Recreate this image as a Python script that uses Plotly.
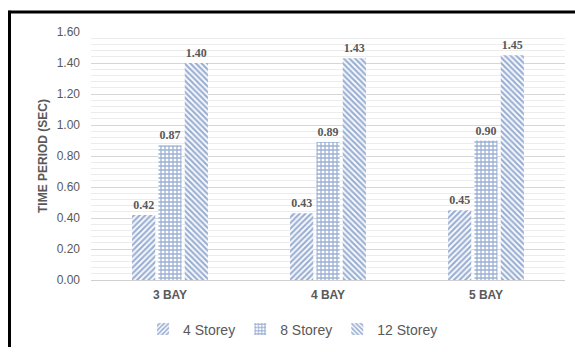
import plotly.graph_objects as go

# Fundamental time period by bay count and building height
categories = ["3 BAY", "4 BAY", "5 BAY"]
series_names = ["4 Storey", "8 Storey", "12 Storey"]
storey_4 = [0.42, 0.43, 0.45]
storey_8 = [0.87, 0.89, 0.90]
storey_12 = [1.40, 1.43, 1.45]
y_ticks = [0.0, 0.2, 0.4, 0.6, 0.8, 1.0, 1.2, 1.4, 1.6]

BLUE = "#3861A8"
GREY = "#595959"

series_values = [storey_4, storey_8, storey_12]
hatches = ["/", "+", "\\"]

fig = go.Figure()
for name, vals, shape in zip(series_names, series_values, hatches):
    fig.add_trace(go.Bar(
        x=categories,
        y=vals,
        name=name,
        text=[f"{v:.2f}" for v in vals],
        textposition="outside",
        textfont=dict(family="Liberation Serif", size=12, color=GREY, weight="bold"),
        cliponaxis=False,
        marker=dict(
            color=BLUE,
            line=dict(width=0),
            pattern=dict(shape=shape, bgcolor="white", fgcolor=BLUE,
                         size=4, solidity=0.55),
        ),
    ))

# plot-area geometry in pixels, used to place the frame in paper units
L, R, T, B = 91, 10, 31.5, 69
W, H = 575, 356
pw, ph = W - L - R, H - T - B

def px_x(p):
    return (p - L) / pw

def px_y(p):
    return (H - B - p) / ph

frame = dict(type="line", xref="paper", yref="paper",
             line=dict(color="black", width=3), layer="above")

fig.update_layout(
    width=W, height=H,
    margin=dict(l=L, r=R, t=T, b=B),
    paper_bgcolor="white",
    plot_bgcolor="white",
    barmode="group",
    bargap=0.5,
    bargroupgap=0.12,
    font=dict(family="Liberation Sans", color=GREY),
    showlegend=True,
    legend=dict(
        orientation="h",
        x=px_x(293), xanchor="center",
        y=px_y(338), yanchor="middle",
        font=dict(size=14, color=GREY),
        itemwidth=30,
        traceorder="normal",
    ),
    shapes=[
        # outer frame: left and top edges
        dict(frame, x0=px_x(9.5), x1=px_x(9.5), y0=px_y(9.5), y1=px_y(356)),
        dict(frame, x0=px_x(8), x1=px_x(575), y0=px_y(11), y1=px_y(11)),
    ],
)

fig.update_xaxes(
    showgrid=False,
    showline=False,
    tickfont=dict(size=12, color=GREY, weight="bold"),
    ticks="",
    ticklabelstandoff=6,
)

fig.update_yaxes(
    range=[0, 1.6],
    tickvals=y_ticks,
    tickformat=".2f",
    tickfont=dict(size=12, color=GREY),
    showgrid=True,
    gridcolor="#d6d6d6",
    gridwidth=1,
    minor=dict(dtick=0.04, showgrid=True, gridcolor="#ececec", gridwidth=1),
    zeroline=True,
    zerolinecolor="#d0d0d0",
    zerolinewidth=1,
    ticklabelstandoff=10,
    title=dict(text="TIME PERIOD (SEC)", font=dict(size=12, color=GREY, weight="bold"),
               standoff=6),
)

fig.write_html("out.html")
